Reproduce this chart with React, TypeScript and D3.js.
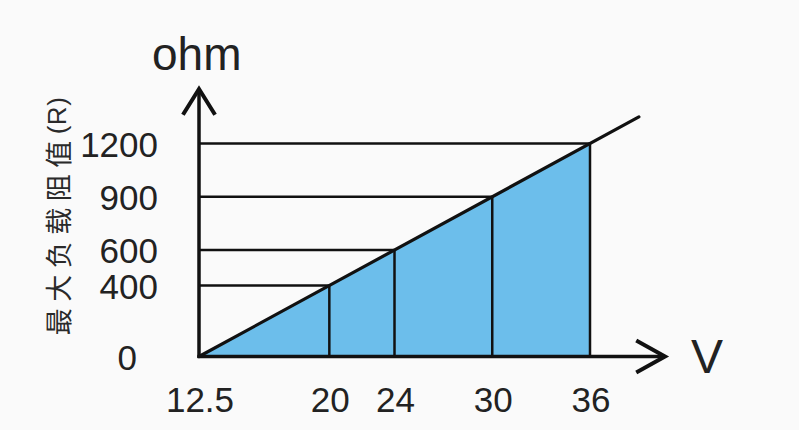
import React from "react";
import * as d3 from "d3";

const voltages = ["12.5", "20", "24", "30", "36"];
const resistances = [0, 400, 600, 900, 1200];
const yTickLabels = ["0", "400", "600", "900", "1200"];
const lineEndR = 1350;
const yTitle = "最大负载阻值";
const yTitleUnit = "(R)";
const yUnit = "ohm";
const xUnit = "V";

const W = 799;
const H = 430;

export default function App() {
  const x = d3.scaleLinear().domain([0, 1200]).range([199, 590]);
  const y = d3.scaleLinear().domain([0, 1200]).range([356.5, 143.5]);
  const x0 = x(0);
  const y0 = y(0);
  const maxR = d3.max(resistances) as number;

  const area = d3
    .area<number>()
    .x((d) => x(d))
    .y0(y0)
    .y1((d) => y(d));
  const fillPath = area([0, maxR]) || "";
  const line = d3
    .line<number>()
    .x((d) => x(d))
    .y((d) => y(d));
  const slantPath = line([0, lineEndR]) || "";

  const font = "'Liberation Sans', Arial, sans-serif";
  const ink = "#111";

  return (
    <svg
      width={W}
      height={H}
      style={{ position: "absolute", left: 0, top: 0, background: "#fafafa" }}
    >
      <rect x={0} y={0} width={W} height={H} fill="#fafafa" />
      <path d={fillPath} fill="#6cbeeb" />
      {resistances
        .filter((r) => r > 0)
        .map((r) => (
          <line
            key={"h" + r}
            x1={x0}
            x2={x(r)}
            y1={y(r)}
            y2={y(r)}
            stroke={ink}
            strokeWidth={2.5}
          />
        ))}
      {resistances
        .filter((r) => r > 0)
        .map((r) => (
          <line
            key={"v" + r}
            x1={x(r)}
            x2={x(r)}
            y1={y0}
            y2={y(r)}
            stroke={ink}
            strokeWidth={2.5}
          />
        ))}
      <path d={slantPath} fill="none" stroke={ink} strokeWidth={3.2} strokeLinecap="round" />
      <line x1={x0} x2={x0} y1={y0 + 1.5} y2={89} stroke={ink} strokeWidth={3.5} />
      <line x1={x0 - 1.5} x2={665} y1={y0} y2={y0} stroke={ink} strokeWidth={3.5} />
      <polyline
        points={`${x0 - 15},${113} ${x0},${89} ${x0 + 15},${113}`}
        fill="none"
        stroke={ink}
        strokeWidth={4}
        strokeLinecap="square"
      />
      <polyline
        points={`${638},${y0 - 15} ${665},${y0} ${638},${y0 + 15}`}
        fill="none"
        stroke={ink}
        strokeWidth={4}
        strokeLinecap="square"
      />
      {resistances.map((r, i) => (
        <text
          key={"yl" + r}
          x={r === 0 ? 137 : 158}
          y={y(r) + 13}
          textAnchor="end"
          fontFamily={font}
          fontSize={35}
          fill="#222"
        >
          {yTickLabels[i]}
        </text>
      ))}
      {resistances.map((r, i) => (
        <text
          key={"xl" + r}
          x={x(r) + 1}
          y={411.5}
          textAnchor="middle"
          fontFamily={font}
          fontSize={35}
          fill="#222"
        >
          {voltages[i]}
        </text>
      ))}
      <text x={152} y={70} fontFamily={font} fontSize={46} fill="#222">
        {yUnit}
      </text>
      <text x={691} y={373} fontFamily={font} fontSize={48} fill="#222">
        {xUnit}
      </text>
      <text
        transform={`translate(57,216) rotate(-90)`}
        textAnchor="middle"
        dominantBaseline="central"
        fill="#2a2a2a"
      >
        <tspan
          fontFamily="'Noto Sans CJK SC', sans-serif"
          fontSize={27}
          letterSpacing={6.5}
        >
          {yTitle}
        </tspan>
        <tspan fontFamily={font} fontSize={26} letterSpacing={0.5}>
          {yTitleUnit}
        </tspan>
      </text>
    </svg>
  );
}
